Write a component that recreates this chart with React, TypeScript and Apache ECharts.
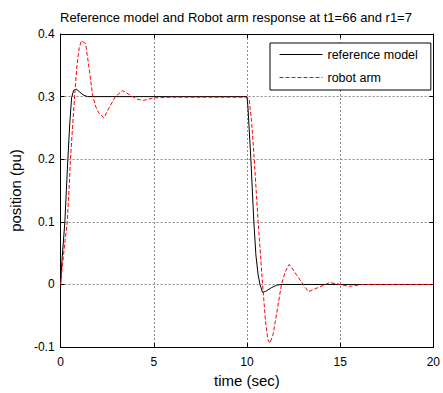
import React, { useEffect, useRef } from "react";
import * as echarts from "echarts";

const titleText = "Reference model and Robot arm response at t1=66 and r1=7";
const xName = "time (sec)";
const yName = "position (pu)";
const seriesNames = ["reference model", "robot arm"];

// reference model (black solid)
const refT = [0, 0.07, 0.15, 0.23, 0.31, 0.39, 0.49, 0.59, 0.7, 0.84, 1.0, 1.2, 1.43, 2, 10, 10.05, 10.21, 10.37, 10.48, 10.6, 10.7, 10.84, 11.0, 11.32, 11.6, 11.85, 20];
const refY = [0, 0.036, 0.068, 0.1, 0.15, 0.2, 0.255, 0.298, 0.31, 0.312, 0.308, 0.303, 0.3, 0.3, 0.3, 0.285, 0.2, 0.1, 0.047, 0.015, 0, -0.0127, -0.011, -0.005, -0.001, 0, 0];

// robot arm (red dashed)
const armT = [0, 0.12, 0.24, 0.36, 0.45, 0.53, 0.64, 0.75, 0.88, 1.0, 1.12, 1.34, 1.5, 1.73, 1.9, 2.05, 2.32, 2.6, 2.94, 3.33, 3.7, 4.1, 4.45, 4.99, 6, 8, 10, 10.12, 10.25, 10.39, 10.6, 10.84, 11.0, 11.12, 11.23, 11.4, 11.6, 11.85, 12.05, 12.27, 13.29, 14.44, 15, 15.5, 16.2, 20];
const armY = [0, 0.036, 0.07, 0.1, 0.15, 0.2, 0.25, 0.3, 0.35, 0.378, 0.389, 0.385, 0.352, 0.3, 0.283, 0.274, 0.266, 0.282, 0.3, 0.3095, 0.303, 0.296, 0.294, 0.298, 0.299, 0.299, 0.299, 0.295, 0.26, 0.2, 0.1, 0, -0.06, -0.088, -0.0937, -0.08, -0.045, 0, 0.02, 0.032, -0.0116, 0.003, 0, -0.003, 0, 0];

const xMin = 0, xMax = 20, xStep = 5;
const yMin = -0.1, yMax = 0.4, yStep = 0.1;

const FONT = "Liberation Sans, Arial, Helvetica, sans-serif";

export default function App() {
  const ref = useRef<HTMLDivElement>(null);
  useEffect(() => {
    if (!ref.current) return;
    const chart = echarts.init(ref.current, undefined, { renderer: "svg" });
    const refData = refT.map((t, i) => [t, refY[i]]);
    const armData = armT.map((t, i) => [t, armY[i]]);
    const grid = { left: 60, right: 9, top: 34, bottom: 44 };
    const splitLine = { show: true, lineStyle: { color: "#8a8a8a", type: [2, 2] as any, width: 1 } };
    const tick = { show: true, inside: true, length: 4, lineStyle: { color: "#000" } };
    const axisLine = { show: true, onZero: false, lineStyle: { color: "#000", width: 1 } };
    chart.setOption({
      animation: false,
      backgroundColor: "#fff",
      title: {
        text: titleText,
        left: 60,
        top: 10,
        padding: 0,
        textStyle: { fontSize: 13, fontWeight: "normal", color: "#000", fontFamily: FONT, lineHeight: 15 },
      },
      legend: {
        orient: "vertical",
        left: 270,
        top: 43,
        padding: [5, 13, 6, 9],
        itemWidth: 43,
        itemHeight: 14,
        itemGap: 10,
        borderColor: "#000",
        borderWidth: 1,
        backgroundColor: "#fff",
        itemStyle: { opacity: 0 },
        lineStyle: { width: 1 },
        textStyle: { fontSize: 12.5, color: "#000", fontFamily: FONT },
        data: seriesNames,
      },
      grid,
      xAxis: [
        {
          type: "value",
          min: xMin,
          max: xMax,
          interval: xStep,
          position: "bottom",
          name: xName,
          nameLocation: "middle",
          nameGap: 25,
          nameTextStyle: { fontSize: 15, color: "#000", fontFamily: FONT },
          axisLine,
          axisTick: tick,
          axisLabel: { color: "#000", fontSize: 12, fontFamily: FONT, margin: 9 },
          splitLine,
        },
        {
          type: "value",
          min: xMin,
          max: xMax,
          interval: xStep,
          position: "top",
          axisLine,
          axisTick: tick,
          axisLabel: { show: false },
          splitLine: { show: false },
        },
      ],
      yAxis: [
        {
          type: "value",
          min: yMin,
          max: yMax,
          interval: yStep,
          position: "left",
          name: yName,
          nameLocation: "middle",
          nameRotate: 90,
          nameGap: 34,
          nameTextStyle: { fontSize: 15, color: "#000", fontFamily: FONT },
          axisLine,
          axisTick: tick,
          axisLabel: { color: "#000", fontSize: 12, fontFamily: FONT, margin: 6 },
          splitLine,
        },
        {
          type: "value",
          min: yMin,
          max: yMax,
          interval: yStep,
          position: "right",
          axisLine,
          axisTick: tick,
          axisLabel: { show: false },
          splitLine: { show: false },
        },
      ],
      series: [
        {
          name: seriesNames[0],
          type: "line",
          data: refData,
          symbol: "none",
          lineStyle: { color: "#000", width: 1 },
          itemStyle: { color: "#000" },
        },
        {
          name: seriesNames[1],
          type: "line",
          data: armData,
          symbol: "none",
          lineStyle: { color: "#ff0000", width: 1, type: [4, 2] as any },
          itemStyle: { color: "#ff0000" },
        },
      ],
    });
    return () => chart.dispose();
  }, []);
  return <div ref={ref} style={{ position: "absolute", left: 0, top: 0, width: 443, height: 393 }} />;
}
